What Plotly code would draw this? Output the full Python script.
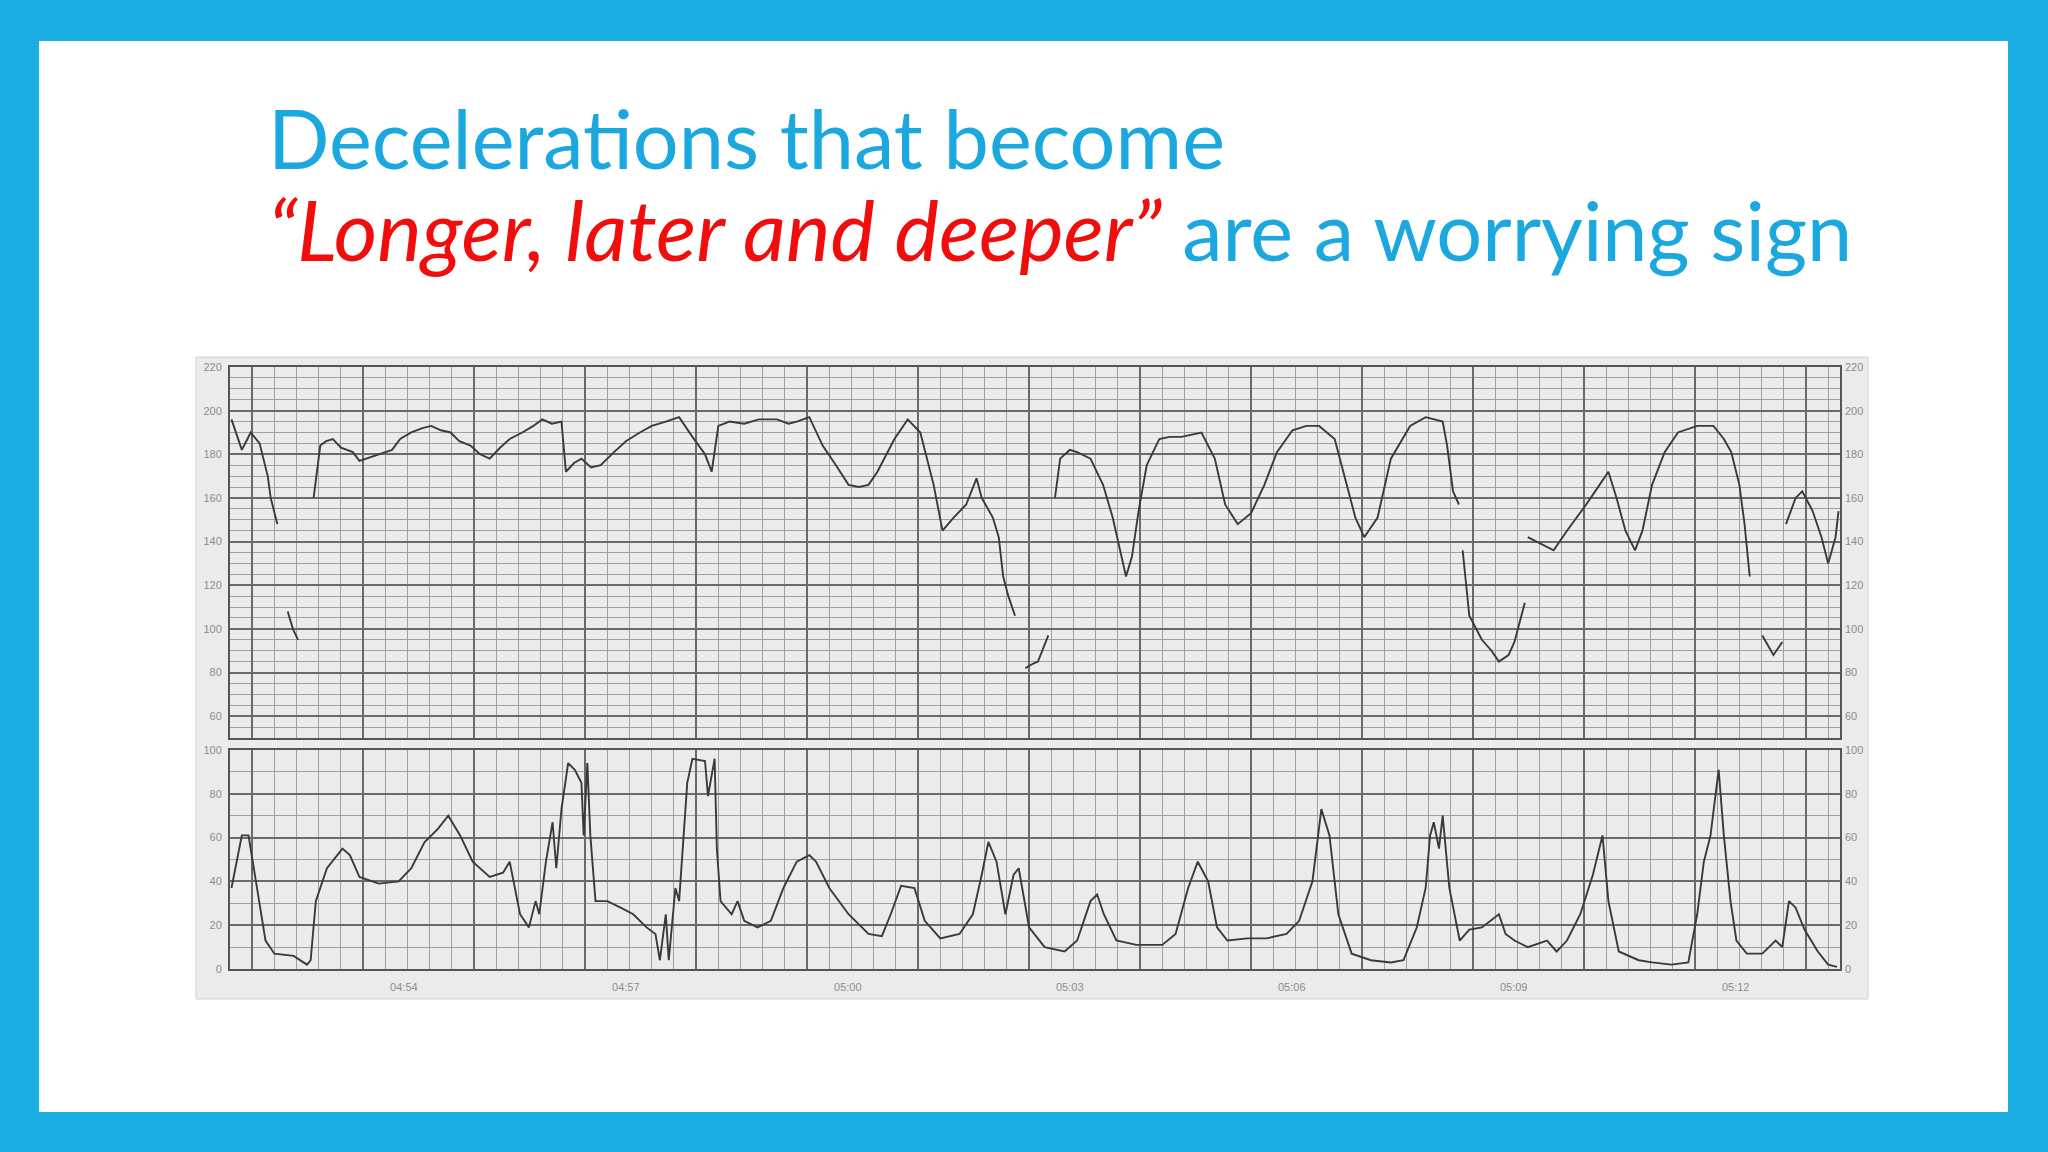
import plotly.graph_objects as go

# ---- Data (time in minutes from start of strip) ----
fhr_t = [0.02, 0.10, 0.16, 0.22, 0.28, 0.40, 0.51, 0.55, 0.64, None,
         0.69, None, 0.78, 0.85, 0.92, None,
         1.13, 1.22, 1.30, 1.39, 1.50, 1.66, 1.75, 1.84, 2.00, 2.19, 2.30, 2.45, 2.60, 2.72, 2.85, 2.98,
         3.10, 3.25, 3.38, 3.51, 3.65, 3.78, 3.95, 4.10, 4.22, 4.35, 4.48, 4.54, 4.65, 4.75, 4.88, 5.01,
         5.19, 5.35, 5.54, 5.70, 5.89, 6.07, 6.25, 6.42, 6.51, 6.60, 6.75, 6.95, 7.15, 7.39, 7.55, 7.66,
         7.83, 8.01, 8.19, 8.36, 8.50, 8.63, 8.75, 8.98, 9.16, 9.33, 9.51, 9.63, 9.78, 9.95, 10.09, 10.16,
         10.31, 10.39, 10.45, 10.52, 10.61, None, 10.75, 10.85, 10.92, 11.06, None,
         11.15, 11.22, 11.35, 11.45, 11.63, 11.80, 11.93, 12.03, 12.11, 12.19, 12.28, 12.39, 12.56, 12.70,
         12.86, 13.00, 13.13, 13.31, 13.45, 13.62, 13.80, 13.98, 14.15, 14.36, 14.55, 14.72, 14.93, 15.07,
         15.21, 15.33, 15.51, 15.69, 15.95, 16.16, 16.39, 16.45, 16.53, 16.61, None, 16.66, 16.75, 16.92,
         17.05, 17.15, 17.28, 17.36, 17.50, None,
         17.54, 17.72, 17.89, 18.07, 18.33, 18.51, 18.63, 18.74, 18.86, 18.99, 19.09, 19.22, 19.39, 19.57,
         19.83, 20.05, 20.19, 20.29, 20.40, 20.47, 20.54, None, 20.71, 20.86, 20.98, None,
         21.03, 21.16, 21.25, 21.39, 21.51, 21.60, 21.70, 21.74]
fhr_bpm = [196, 188, 182, 186, 190, 185, 170, 160, 148, None,
           124, None, 108, 100, 95, None,
           160, 184, 186, 187, 183, 181, 177, 178, 180, 182, 187, 190, 192, 193, 191, 190,
           186, 184, 180, 178, 183, 187, 190, 193, 196, 194, 195, 172, 176, 178, 174, 175,
           181, 186, 190, 193, 195, 197, 188, 180, 172, 193, 195, 194, 196, 196, 194, 195,
           197, 184, 175, 166, 165, 166, 172, 187, 196, 190, 166, 145, 151, 157, 169, 160,
           151, 142, 124, 115, 106, None, 82, 84, 85, 97, None,
           160, 178, 182, 181, 178, 166, 151, 136, 124, 133, 154, 175, 187, 188,
           188, 189, 190, 178, 157, 148, 153, 166, 181, 191, 193, 193, 187, 169,
           151, 142, 151, 178, 193, 197, 195, 184, 163, 157, None, 136, 106, 95,
           90, 85, 88, 94, 112, None,
           142, 139, 136, 145, 157, 166, 172, 160, 145, 136, 145, 166, 181, 190,
           193, 193, 187, 181, 166, 148, 124, None, 97, 88, 94, None,
           148, 160, 163, 154, 142, 130, 142, 154]

uc_t = [0.02, 0.16, 0.25, 0.37, 0.48, 0.60, 0.86, 1.04, 1.09, 1.16, 1.31, 1.52, 1.62, 1.75, 2.01, 2.28,
        2.45, 2.63, 2.81, 2.95, 3.11, 3.28, 3.51, 3.69, 3.78, 3.92, 4.04, 4.13, 4.18, 4.27, 4.36, 4.41,
        4.48, 4.57, 4.66, 4.75, 4.78, 4.83, 4.87, 4.94, 5.10, 5.28, 5.45, 5.63, 5.75, 5.81, 5.89, 5.93,
        6.02, 6.07, 6.11, 6.18, 6.25, 6.42, 6.46, 6.55, 6.58, 6.63, 6.78, 6.86, 6.95, 7.13, 7.31, 7.48,
        7.66, 7.83, 7.92, 8.10, 8.36, 8.63, 8.81, 8.93, 9.07, 9.25, 9.39, 9.60, 9.86, 10.04, 10.16, 10.25,
        10.36, 10.48, 10.59, 10.66, 10.80, 11.01, 11.28, 11.45, 11.63, 11.72, 11.81, 11.98, 12.25, 12.60,
        12.78, 12.95, 13.08, 13.22, 13.34, 13.48, 13.75, 14.01, 14.28, 14.45, 14.63, 14.75, 14.86, 14.98,
        15.16, 15.42, 15.69, 15.86, 16.04, 16.16, 16.22, 16.27, 16.34, 16.39, 16.48, 16.62, 16.75, 16.92,
        17.15, 17.24, 17.36, 17.54, 17.80, 17.93, 18.07, 18.25, 18.42, 18.55, 18.63, 18.77, 19.04, 19.22,
        19.48, 19.71, 19.83, 19.92, 20.01, 20.12, 20.19, 20.28, 20.36, 20.50, 20.71, 20.89, 20.98, 21.07,
        21.16, 21.28, 21.46, 21.60, 21.72]
uc_val = [37, 61, 61, 37, 13, 7, 6, 2, 4, 31, 46, 55, 52, 42, 39, 40,
          46, 58, 64, 70, 61, 49, 42, 44, 49, 25, 19, 31, 25, 49, 67, 46,
          73, 94, 91, 85, 61, 94, 61, 31, 31, 28, 25, 19, 16, 4, 25, 4,
          37, 31, 49, 85, 96, 95, 79, 96, 55, 31, 25, 31, 22, 19, 22, 37,
          49, 52, 49, 37, 25, 16, 15, 25, 38, 37, 22, 14, 16, 25, 43, 58,
          49, 25, 43, 46, 19, 10, 8, 13, 31, 34, 25, 13, 11, 11,
          16, 37, 49, 40, 19, 13, 14, 14, 16, 22, 40, 73, 61, 25,
          7, 4, 3, 4, 19, 37, 61, 67, 55, 70, 37, 13, 18, 19,
          25, 16, 13, 10, 13, 8, 13, 25, 43, 61, 31, 8, 4, 3,
          2, 3, 25, 49, 61, 91, 61, 31, 13, 7, 7, 13, 10, 31,
          28, 18, 8, 2, 1]

time_labels = ["04:54", "04:57", "05:00", "05:03", "05:06", "05:09", "05:12"]
time_label_pos = [2.35, 5.35, 8.35, 11.35, 14.35, 17.35, 20.35]
fhr_ticks = [60, 80, 100, 120, 140, 160, 180, 200, 220]
uc_ticks = [0, 20, 40, 60, 80, 100]

title_line1 = "Decelerations that become"
title_red = "\u201cLonger, later and deeper\u201d"
title_rest = " are a worrying sign"

# ---- Styles ----
W, H = 2048, 1152
BLUE = "#1AADE1"
TRACE = "#3a3a3a"
MAJ = "#6a6a6a"
MIN = "#a0a0a0"
LBL = dict(family="Liberation Sans, Arial", size=11, color="#8c8c8c")

XR = [0, 21.76]
xdom = [230 / W, 1840 / W]
ytop_dom = [1 - 738 / H, 1 - 367 / H]
ybot_dom = [1 - 969 / H, 1 - 750 / H]

fig = go.Figure()
fig.add_trace(go.Scatter(x=fhr_t, y=fhr_bpm, mode="lines", connectgaps=False,
                         line=dict(color=TRACE, width=1.9), xaxis="x", yaxis="y",
                         hoverinfo="skip", showlegend=False))
fig.add_trace(go.Scatter(x=uc_t, y=uc_val, mode="lines",
                         line=dict(color=TRACE, width=1.9), xaxis="x2", yaxis="y2",
                         hoverinfo="skip", showlegend=False))
# helper (invisible) traces so the overlay axes render
fig.add_trace(go.Scatter(x=uc_t, y=uc_val, mode="lines", line=dict(width=0),
                         opacity=0, xaxis="x3", yaxis="y2", hoverinfo="skip", showlegend=False))
fig.add_trace(go.Scatter(x=fhr_t, y=fhr_bpm, mode="lines", line=dict(width=0),
                         opacity=0, xaxis="x", yaxis="y3", hoverinfo="skip", showlegend=False))
fig.add_trace(go.Scatter(x=uc_t, y=uc_val, mode="lines", line=dict(width=0),
                         opacity=0, xaxis="x2", yaxis="y4", hoverinfo="skip", showlegend=False))

xgrid = dict(range=XR, domain=xdom, showticklabels=False, ticks="",
             showgrid=True, gridcolor=MAJ, gridwidth=1.6, tick0=0.3, dtick=1.5,
             minor=dict(showgrid=True, gridcolor=MIN, gridwidth=1, tick0=0, dtick=0.3),
             zeroline=False, showline=True, mirror=True, linecolor="#555", linewidth=2,
             fixedrange=True)

fig.update_layout(
    width=W, height=H,
    margin=dict(l=0, r=0, t=0, b=0, pad=0, autoexpand=False),
    paper_bgcolor=BLUE, plot_bgcolor="#f6f6f6",
    xaxis=dict(xgrid, anchor="y"),
    xaxis2=dict(xgrid, anchor="y2"),
    xaxis3=dict(range=XR, domain=xdom, anchor="y2", overlaying="x2", side="bottom",
                tickmode="array", tickvals=time_label_pos, ticktext=time_labels,
                showgrid=False, zeroline=False, ticks="", tickfont=LBL,
                ticklabelstandoff=10, showline=False),
    yaxis=dict(domain=ytop_dom, anchor="x", range=[50, 220], tickmode="array",
               tickvals=fhr_ticks, tickfont=LBL, ticks="", ticklabelstandoff=4,
               showgrid=True, gridcolor=MAJ, gridwidth=1.6,
               minor=dict(showgrid=True, gridcolor=MIN, gridwidth=1, tick0=0, dtick=5),
               zeroline=False, showline=True, mirror=True, linecolor="#555", linewidth=2),
    yaxis3=dict(domain=ytop_dom, anchor="x", overlaying="y", side="right", range=[50, 220],
                tickmode="array", tickvals=fhr_ticks, tickfont=LBL, ticks="",
                ticklabelstandoff=4, showgrid=False, zeroline=False),
    yaxis2=dict(domain=ybot_dom, anchor="x2", range=[0, 100], tickmode="array",
                tickvals=uc_ticks, tickfont=LBL, ticks="", ticklabelstandoff=4,
                showgrid=True, gridcolor=MAJ, gridwidth=1.6,
                minor=dict(showgrid=True, gridcolor=MIN, gridwidth=1, tick0=0, dtick=10),
                zeroline=False, showline=True, mirror=True, linecolor="#555", linewidth=2),
    yaxis4=dict(domain=ybot_dom, anchor="x2", overlaying="y2", side="right", range=[0, 100],
                tickmode="array", tickvals=uc_ticks, tickfont=LBL, ticks="",
                ticklabelstandoff=4, showgrid=False, zeroline=False),
    shapes=[
        dict(type="rect", xref="paper", yref="paper", x0=39 / W, x1=2008 / W,
             y0=1 - 1112 / H, y1=1 - 41 / H, fillcolor="white", line=dict(width=0),
             layer="below"),
        dict(type="rect", xref="paper", yref="paper", x0=196 / W, x1=1868 / W,
             y0=1 - 999 / H, y1=1 - 357 / H, fillcolor="#ebebeb",
             line=dict(color="#d0d0d0", width=1), layer="below"),
    ],
    annotations=[
        dict(text=title_line1, xref="paper", yref="paper", x=266 / W, y=1 - 188 / H,
             xanchor="left", yanchor="bottom", showarrow=False,
             font=dict(family="Lato", size=81, color="#1BA8DF")),
        dict(text="<i><span style='color:#F20D0D;font-size:84px'>" + title_red + "</span></i>"
             + title_rest,
             xref="paper", yref="paper", x=266 / W, y=1 - 281 / H,
             xanchor="left", yanchor="bottom", showarrow=False,
             font=dict(family="Lato", size=81, color="#1BA8DF")),
    ],
)

fig.write_html("out.html", config={"displayModeBar": False},
               post_script="document.body.style.margin='0';document.body.style.overflow='hidden';")
